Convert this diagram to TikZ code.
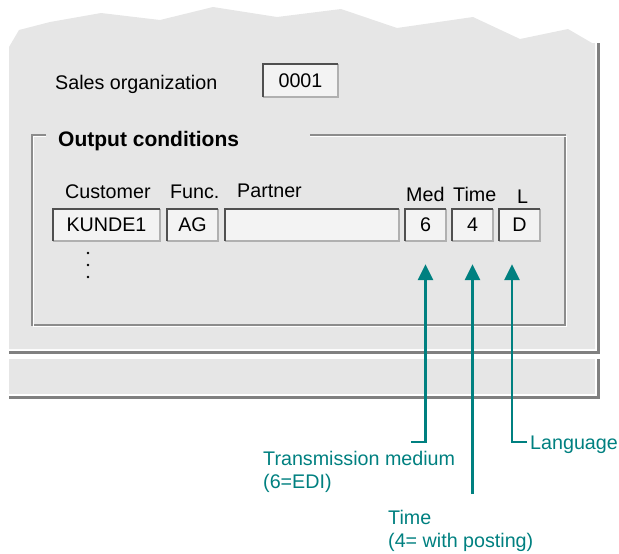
\documentclass[tikz,border=0pt]{standalone}
\usepackage{fontspec}
\setmainfont{Liberation Sans}
\usetikzlibrary{arrows.meta}
\definecolor{panel}{RGB}{230,230,230}
\definecolor{fieldbg}{RGB}{243,243,243}
\definecolor{shadowgray}{RGB}{128,128,128}
\definecolor{fielddark}{RGB}{80,80,80}
\definecolor{fieldlite}{RGB}{176,176,176}
\definecolor{framegray}{RGB}{140,140,140}
\definecolor{pointer}{RGB}{0,128,128}

\begin{document}
\begin{tikzpicture}[x=1pt,y=-1pt,font=\fontsize{19.7}{23.5}\selectfont,
  field/.style={fill=fieldbg,inner sep=0pt,minimum height=32pt},
  lbl/.style={anchor=base west,inner sep=0pt},
  note/.style={anchor=north west,inner sep=0pt,align=left,text=pointer},
  ptr/.style={draw=pointer,line width=2.6pt,shorten >=23pt,-{Triangle[width=15pt,length=16pt]}},
  etch/.style={line width=1.5pt}]
\useasboundingbox (0,0) rectangle (619,554);
\fill[panel] (9,349) -- (9,47) -- (19,30) -- (50,22) -- (101,13) -- (160,20) -- (213,7) -- (277,17) -- (341,9) -- (397,28) -- (473,17) -- (520,39) -- (568,29) -- (592,43) -- (595,43) -- (595,349) -- cycle;
\draw[shadowgray,line width=3pt] (9,352.5) -| (598.5,43);
\fill[panel] (9,359) rectangle (595,394);
\draw[shadowgray,line width=3pt] (9,397.5) -| (598.5,359);
\draw[framegray,etch] (46,135) -- (32,135) -- (32,325) -- (565,325) -- (565,135) -- (310,135);
\draw[white,etch] (46,136.5) -- (33.5,136.5) -- (33.5,326.5) -- (566.5,326.5) -- (566.5,136.5) -- (310,136.5);
\node[lbl] (orglbl) at (55,89) {Sales organization};
\node[field,minimum width=75pt,minimum height=33pt] (org) at (300.5,80.5) {0001};
\node[lbl,font=\fontsize{21}{25}\selectfont\bfseries] (outtitle) at (58,146) {Output conditions};
\node[lbl] (custhd) at (65,198) {Customer};
\node[lbl] (funchd) at (170,198) {Func.};
\node[lbl] (parthd) at (237,197) {Partner};
\node[lbl] (medhd) at (406,201) {Med};
\node[lbl] (timehd) at (453,201) {Time};
\node[lbl] (langhd) at (517,203) {L};
\node[field,minimum width=107pt] (kunde) at (106.5,225) {KUNDE1};
\node[field,minimum width=51pt] (func) at (192.5,225) {AG};
\node[field,minimum width=174pt] (partner) at (312,225) {};
\node[field,minimum width=41pt] (med) at (425.5,225) {6};
\node[field,minimum width=41pt] (time) at (472.5,225) {4};
\node[field,minimum width=41pt] (lang) at (519.5,225) {D};
\foreach \f in {org,kunde,func,partner,med,time,lang}{
  \draw[fieldlite,line width=2pt] (\f.north east) -- (\f.south east) -- (\f.south west);
  \draw[fielddark,line width=1.5pt] (\f.south west) -- (\f.north west) -- (\f.north east);
}
\foreach \y in {253,265,277}
  \fill (88,\y) circle (1.3pt);
\node[note] (mednote) at (263,451) {Transmission medium\\(6=EDI)};
\node[note] (timenote) at (388,510) {Time\\(4= with posting)};
\node[lbl,text=pointer] (langnote) at (530,449) {Language};
\coordinate (medfoot) at (411,442);
\coordinate (timefoot) at (472.5,494);
\coordinate (langfoot) at (527,442);
\draw[ptr] (medfoot) -| (med.south);
\draw[ptr] (timefoot) -- (time.south);
\draw[ptr] (langfoot) -| ([xshift=-7.5pt]lang.south);
\end{tikzpicture}
\end{document}
